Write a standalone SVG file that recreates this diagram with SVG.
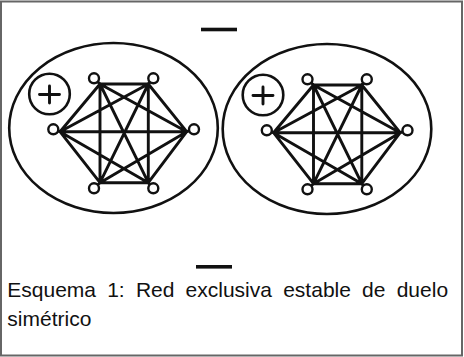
<svg xmlns="http://www.w3.org/2000/svg" width="464" height="357" viewBox="0 0 464 357">
  <style>
    .frame { fill: #ffffff; stroke: #666666; stroke-width: 2; }
    .ring { fill: none; stroke: #111111; stroke-width: 2.6; }
    .edge { stroke: #111111; stroke-width: 2.9; stroke-linecap: round; fill: none; }
    .vertex { fill: #ffffff; stroke: #111111; stroke-width: 2.4; }
    .sign { fill: #111111; }
    .caption { font-family: "Liberation Sans", Arial, sans-serif; font-size: 21px; fill: #111111; }
  </style>

  <rect class="frame" x="1" y="1.5" width="461" height="354"/>

  <!-- minus signs -->
  <rect id="minus-top" class="sign" x="201" y="27.7" width="36" height="3.6"/>
  <rect id="minus-bottom" class="sign" x="196" y="265" width="36" height="3.6"/>

  <!-- left complete graph -->
  <g id="cluster-left">
    <ellipse class="ring" cx="113.5" cy="128" rx="104.3" ry="85"/>
    <g id="plus-left">
      <circle class="ring" cx="49.5" cy="94" r="20.3"/>
      <path class="edge" d="M39.5 94.5 H59.5 M49.5 86 V103"/>
    </g>
    <g id="edges-left">
      <path class="edge" d="M100 84 L148.3 84 M100 84 L60 131.7 M100 84 L186.7 131.7 M100 84 L100 182.7 M100 84 L148.3 182.7
        M148.3 84 L60 131.7 M148.3 84 L186.7 131.7 M148.3 84 L100 182.7 M148.3 84 L148.3 182.7
        M60 131.7 L186.7 131.7 M60 131.7 L100 182.7 M60 131.7 L148.3 182.7
        M186.7 131.7 L100 182.7 M186.7 131.7 L148.3 182.7
        M100 182.7 L148.3 182.7"/>
      <path class="edge" d="M94 78.3 L100 84 M153.3 78.3 L148.3 84 M53.3 129.3 L60 131.7 M194 129.3 L186.7 131.7 M94 188.3 L100 182.7 M153.3 188.3 L148.3 182.7"/>
    </g>
    <g id="a1"><circle class="vertex" cx="94" cy="78.3" r="5"/></g>
    <g id="a2"><circle class="vertex" cx="153.3" cy="78.3" r="5"/></g>
    <g id="a3"><circle class="vertex" cx="53.3" cy="129.3" r="5"/></g>
    <g id="a4"><circle class="vertex" cx="194" cy="129.3" r="5"/></g>
    <g id="a5"><circle class="vertex" cx="94" cy="188.3" r="5"/></g>
    <g id="a6"><circle class="vertex" cx="153.3" cy="188.3" r="5"/></g>
  </g>

  <!-- right complete graph, same shape shifted -->
  <g id="cluster-right" transform="translate(213.5,1)">
    <ellipse class="ring" cx="113.5" cy="128" rx="104.3" ry="85"/>
    <g id="plus-right">
      <circle class="ring" cx="49.5" cy="94" r="20.3"/>
      <path class="edge" d="M39.5 94.5 H59.5 M49.5 86 V103"/>
    </g>
    <g id="edges-right">
      <path class="edge" d="M100 84 L148.3 84 M100 84 L60 131.7 M100 84 L186.7 131.7 M100 84 L100 182.7 M100 84 L148.3 182.7
        M148.3 84 L60 131.7 M148.3 84 L186.7 131.7 M148.3 84 L100 182.7 M148.3 84 L148.3 182.7
        M60 131.7 L186.7 131.7 M60 131.7 L100 182.7 M60 131.7 L148.3 182.7
        M186.7 131.7 L100 182.7 M186.7 131.7 L148.3 182.7
        M100 182.7 L148.3 182.7"/>
      <path class="edge" d="M94 78.3 L100 84 M153.3 78.3 L148.3 84 M53.3 129.3 L60 131.7 M194 129.3 L186.7 131.7 M94 188.3 L100 182.7 M153.3 188.3 L148.3 182.7"/>
    </g>
    <g id="b1"><circle class="vertex" cx="94" cy="78.3" r="5"/></g>
    <g id="b2"><circle class="vertex" cx="153.3" cy="78.3" r="5"/></g>
    <g id="b3"><circle class="vertex" cx="53.3" cy="129.3" r="5"/></g>
    <g id="b4"><circle class="vertex" cx="194" cy="129.3" r="5"/></g>
    <g id="b5"><circle class="vertex" cx="94" cy="188.3" r="5"/></g>
    <g id="b6"><circle class="vertex" cx="153.3" cy="188.3" r="5"/></g>
  </g>

  <!-- caption, justified first line -->
  <text class="caption" y="297">
    <tspan x="7.3">Esquema</tspan>
    <tspan x="107.2">1:</tspan>
    <tspan x="135.9">Red</tspan>
    <tspan x="185.6">exclusiva</tspan>
    <tspan x="283.2">estable</tspan>
    <tspan x="362.1">de</tspan>
    <tspan x="396.7">duelo</tspan>
  </text>
  <text class="caption" x="7.3" y="326">simétrico</text>
</svg>
